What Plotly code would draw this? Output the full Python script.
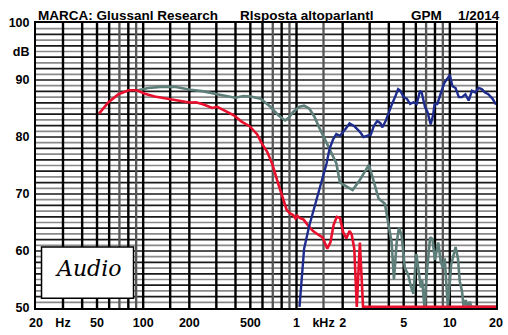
import plotly.graph_objects as go

# ---------------- data ----------------
red_f = [51.5, 59.4, 69, 80.3, 90.9, 102.6, 118.8, 148, 175, 200, 221, 248, 282, 304, 335, 390, 438, 494,
         553, 596, 644, 694, 762, 821, 863, 908, 951, 985, 1010, 1050, 1113, 1196, 1283, 1378, 1479, 1587,
         1664, 1746, 1831, 1921, 2015, 2112, 2216, 2290, 2381, 2472, 2590, 2716, 20000]
red_db = [84.1, 86.1, 87.5, 88.2, 88.2, 87.6, 87.1, 86.7, 86.4, 86.05, 86.1, 85.7, 85.1, 85.3, 84.7, 83.8, 82.7, 81.9,
          80.5, 78.8, 77.4, 75.3, 71.7, 68.9, 67.2, 66.6, 66.3, 65.7, 66.2, 65.8, 65.5, 64.4, 63.5, 62.9, 62.4, 60.4,
          61.5, 64.6, 66.0, 65.8, 63.3, 62.2, 63.5, 62.9, 60.4, 50.2, 61.5, 50.2, 50.2]

gray_f = [89, 108, 130, 160, 204, 248, 304, 369, 398, 450, 502, 583, 676, 762, 842, 885, 951, 1046, 1121,
          1210, 1306, 1410, 1569, 1733, 1818, 1921, 2117, 2323, 2567, 2830, 2965, 3144, 3430, 3770, 3960,
          4170, 4320, 4500, 4660, 4850, 5090, 5340, 5600, 5790, 6040, 6270, 6470, 6600, 6820, 7090, 7440,
          7700, 8000, 8400, 8730, 9030, 9260, 9700, 10200, 10900, 11300, 11600, 12000, 12300, 12700, 13050,
          13500, 13800, 20000]
gray_db = [88.1, 88.6, 88.8, 88.8, 88.3, 88.0, 87.5, 87.1, 86.9, 87.2, 87.1, 86.7, 85.3, 83.8, 82.9, 83.3, 84.4,
           85.3, 85.5, 85.0, 83.6, 81.6, 79.0, 76.8, 75.4, 72.0, 71.4, 70.7, 72.3, 74.2, 75.1, 72.8, 69.2, 68.3,
           64.9, 61.5, 55.0, 61.5, 64.1, 62.7, 57.0, 55.9, 53.6, 52.5, 59.5, 56.7, 53.6, 55.0, 50.2, 56.4, 62.4,
           62.1, 58.4, 61.5, 58.1, 57.0, 58.7, 50.2, 57.6, 60.7, 58.7, 54.7, 53.0, 50.2, 51.4, 50.2, 51.1, 50.2,
           50.2]

blue_f = [1046, 1121, 1210, 1306, 1410, 1520, 1569, 1640, 1733, 1818, 1921, 2117, 2216, 2381, 2590, 2735,
          2900, 3050, 3190, 3360, 3530, 3620, 3800, 3990, 4200, 4420, 4600, 4760, 5000, 5250, 5510, 5790,
          6080, 6390, 6550, 6880, 7150, 7500, 7770, 7960, 8280, 8690, 9210, 9670, 10000, 10400, 10900, 11450,
          12000, 12630, 13270, 13940, 14640, 15370, 16150, 16970, 17820, 19000, 20000]
blue_db = [50.2, 60.4, 64.4, 67.7, 70.6, 74.0, 75.3, 77.9, 79.6, 80.5, 80.2, 81.6, 82.4, 81.9, 80.9, 80.0,
           80.2, 80.4, 81.9, 82.8, 82.4, 81.7, 82.7, 84.4, 85.8, 87.2, 88.4, 88.1, 87.0, 86.7, 85.8, 86.1,
           85.8, 88.1, 87.8, 85.3, 84.4, 82.2, 83.8, 85.8, 85.8, 87.5, 89.5, 90.3, 90.9, 88.9, 88.6, 87.0,
           87.0, 87.5, 86.4, 88.1, 87.8, 88.6, 88.4, 87.8, 87.5, 86.7, 85.7]

x_tickvals = [20, 30, 50, 100, 200, 500, 1000, 1500, 2000, 5000, 10000, 20000]
x_ticktext = ["20", "Hz", "50", "100", "200", "500", "1", "kHz", "2", "5", "10", "20"]
y_tickvals = [50, 60, 70, 80, 90, 95, 100]
y_ticktext = ["50", "60", "70", "80", "90", "dB", "100"]

v_grid_dark = [30, 40, 50, 60, 80, 100, 150, 200, 300, 400, 500, 600, 800, 1000, 2000, 3000, 4000, 5000,
               6000, 8000, 10000, 15000]
v_grid_gray = [70, 90, 700, 900, 1500, 7000, 9000]
h_grid = list(range(51, 100))

# ---------------- figure ----------------
fig = go.Figure()
fig.add_trace(go.Scatter(x=gray_f, y=gray_db, mode="lines",
                         line=dict(color="#5E7E79", width=2.6), hoverinfo="skip"))
fig.add_trace(go.Scatter(x=red_f, y=red_db, mode="lines",
                         line=dict(color="#E8102C", width=2.6), hoverinfo="skip"))
fig.add_trace(go.Scatter(x=blue_f, y=blue_db, mode="lines",
                         line=dict(color="#1E2C8E", width=2.4), hoverinfo="skip"))

shapes = []
for v in h_grid:
    shapes.append(dict(type="line", xref="paper", x0=0, x1=1, yref="y", y0=v, y1=v, layer="below",
                       line=dict(color="#1a1a1a" if v % 2 == 0 else "#8a8a8a", width=1.7)))
for v in v_grid_gray:
    shapes.append(dict(type="line", yref="paper", y0=0, y1=1, xref="x", x0=v, x1=v, layer="below",
                       line=dict(color="#555555", width=2.3)))
for v in v_grid_dark:
    shapes.append(dict(type="line", yref="paper", y0=0, y1=1, xref="x", x0=v, x1=v, layer="below",
                       line=dict(color="#000000", width=2.4)))
# logo box
shapes.append(dict(type="rect", xref="paper", yref="paper", x0=0.012, x1=0.212, y0=0.034, y1=0.2136,
                   fillcolor="white", line=dict(color="black", width=1.5), layer="above"))

bold = dict(family="Liberation Sans, Arial, sans-serif", size=12.5, color="black", weight="bold")
tfont = dict(family="Liberation Sans, Arial, sans-serif", size=13.5, color="black", weight="bold")

fig.update_layout(
    width=508, height=335,
    margin=dict(l=36, r=5, t=23, b=17),
    paper_bgcolor="white", plot_bgcolor="white",
    showlegend=False,
    shapes=shapes,
    xaxis=dict(type="log", range=[1.30103, 4.30103], tickvals=x_tickvals, ticktext=x_ticktext,
               showgrid=False, zeroline=False, showline=True, mirror=True, linecolor="black",
               linewidth=2, ticks="", tickfont=bold, ticklabelstandoff=2),
    yaxis=dict(range=[50, 100], tickvals=y_tickvals, ticktext=y_ticktext,
               showgrid=False, zeroline=False, showline=True, mirror=True, linecolor="black",
               linewidth=2, ticks="", tickfont=bold, ticklabelstandoff=2),
    annotations=[
        dict(text="MARCA: Glussanl Research", xref="paper", yref="paper", x=0.0, y=1.028,
             xanchor="left", yanchor="middle", showarrow=False, font=tfont),
        dict(text="Rlsposta altoparlantl", xref="paper", yref="paper", x=0.44, y=1.028,
             xanchor="left", yanchor="middle", showarrow=False, font=tfont),
        dict(text="GPM", xref="paper", yref="paper", x=0.81, y=1.028,
             xanchor="left", yanchor="middle", showarrow=False, font=tfont),
        dict(text="1/2014", xref="paper", yref="paper", x=1.013, y=1.028,
             xanchor="right", yanchor="middle", showarrow=False, font=tfont),
        dict(text="<i>Audio</i>", xref="paper", yref="paper", x=0.112, y=0.14,
             xanchor="center", yanchor="middle", showarrow=False,
             font=dict(family="DejaVu Serif, serif", size=22, color="black")),
    ],
)

fig.write_html("out.html")
